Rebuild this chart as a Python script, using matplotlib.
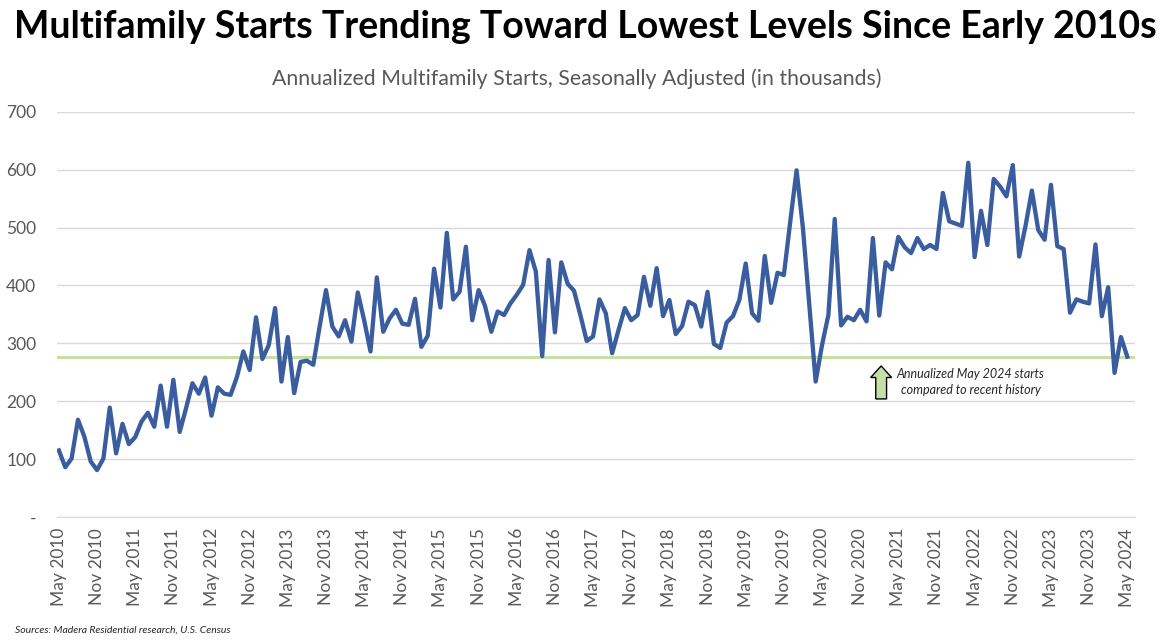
import numpy as np
import matplotlib
matplotlib.use("Agg")
import matplotlib.pyplot as plt
from matplotlib.patches import FancyArrow

plt.rcParams['font.family'] = ['Lato', 'DejaVu Sans']

# monthly multifamily starts, May 2010 .. May 2024 (thousands, SAAR)
starts = [
    115, 86, 101, 168, 139, 96, 81, 101, 189, 110, 161, 126,
    138, 165, 180, 156, 227, 156, 237, 147, 188, 231, 213, 241,
    175, 224, 213, 211, 242, 286, 254, 345, 273, 297, 361, 234,
    311, 214, 268, 270, 263, 329, 392, 329, 312, 340, 303, 388,
    340, 286, 414, 320, 343, 358, 334, 332, 377, 294, 313, 429,
    362, 491, 376, 389, 467, 340, 392, 365, 320, 355, 349, 369,
    384, 401, 461, 424, 278, 444, 319, 440, 403, 391, 349, 304,
    312, 376, 352, 283, 323, 361, 340, 349, 415, 365, 430, 347,
    375, 316, 330, 372, 366, 329, 389, 299, 292, 336, 347, 375,
    438, 352, 339, 451, 370, 422, 418, 510, 599, 499, 366, 234,
    297, 349, 515, 331, 346, 340, 358, 338, 482, 348, 440, 428,
    484, 466, 456, 482, 463, 470, 463, 560, 511, 507, 503, 612,
    449, 529, 470, 584, 571, 554, 608, 450, 503, 564, 496, 479,
    574, 468, 463, 353, 376, 372, 369, 471, 347, 397, 249, 311,
    277,
]
latest = starts[-1]

months = ['May', 'Nov']
tick_labels = []
for yr in range(2010, 2025):
    for m in months:
        tick_labels.append(f'{m} {yr}')
tick_labels = tick_labels[:29]  # May 2010 .. May 2024
tick_pos = np.arange(0, len(starts), 6)

y_ticks = [0, 100, 200, 300, 400, 500, 600, 700]
y_labels = ['-', '100', '200', '300', '400', '500', '600', '700']

gray = '#595959'
blue = '#3a5d9f'
green = '#c5dfa6'

fig = plt.figure(figsize=(11.7, 6.43), dpi=100)
ax = fig.add_axes([0.0487, 0.196, 0.9213, 0.630])

x = np.arange(len(starts))
ax.axhline(latest, color=green, lw=2.2, zorder=2)
ax.plot(x, starts, color=blue, lw=3.1, zorder=3, solid_joinstyle='round')

ax.set_xlim(-0.3, 169.2)
ax.set_ylim(0, 700)
ax.set_yticks(y_ticks)
ax.set_yticklabels(y_labels)
ax.set_xticks(tick_pos)
ax.set_xticklabels(tick_labels, rotation=90)
ax.tick_params(axis='both', length=0, colors=gray, labelsize=12.5)
ax.tick_params(axis='y', pad=15)
ax.tick_params(axis='x', pad=8)
ax.grid(axis='y', color='#d9d9d9', lw=1)
ax.set_axisbelow(True)
for s in ['top', 'right', 'left']:
    ax.spines[s].set_visible(False)
ax.spines['bottom'].set_color('#d9d9d9')

# arrow + note
ax.add_patch(FancyArrow(129.3, 204, 0, 57, width=1.7, head_width=3.3,
                        head_length=20, length_includes_head=True,
                        fc=green, ec='black', lw=1, zorder=4))
ax.text(143.4, 233, 'Annualized May 2024 starts\ncompared to recent history',
        ha='center', va='center', fontsize=9.0, style='italic',
        color='#262626', linespacing=1.35)

fig.text(0.5, 0.958, 'Multifamily Starts Trending Toward Lowest Levels Since Early 2010s',
         ha='center', va='center', fontsize=27, fontweight='bold', color='black')
fig.text(0.493, 0.878, 'Annualized Multifamily Starts, Seasonally Adjusted (in thousands)',
         ha='center', va='center', fontsize=15.3, color=gray)
fig.text(0.013, 0.02, 'Sources: Madera Residential research, U.S. Census',
         ha='left', va='center', fontsize=7.5, style='italic', color='#262626')

fig.savefig('out.png', dpi=100)
